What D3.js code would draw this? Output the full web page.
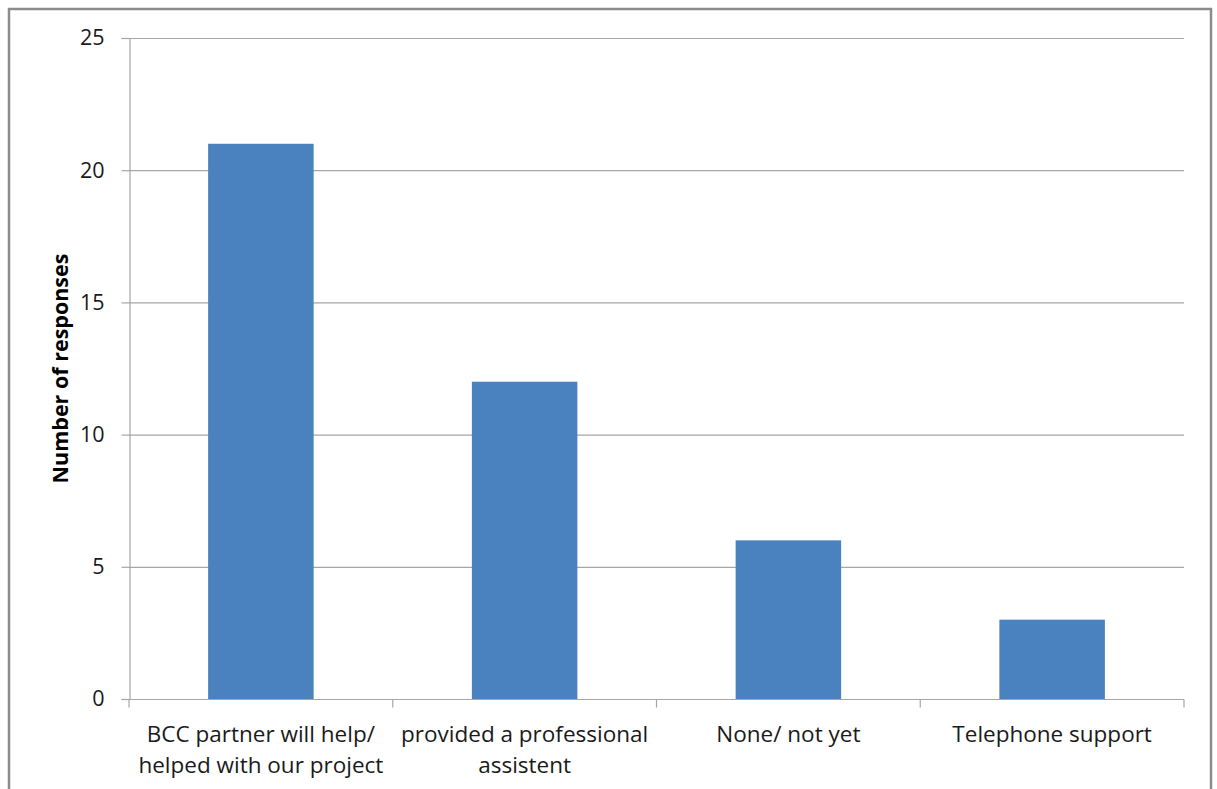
<!DOCTYPE html>
<html><head><meta charset="utf-8">
<script src="https://cdn.jsdelivr.net/npm/d3@7"></script>
<style>body{margin:0;background:#fff}svg{display:block}</style>
</head><body>
<script>
const categories = [["BCC partner will help/","helped with our project"],["provided a professional","assistent"],["None/ not yet"],["Telephone support"]];
const values = [21, 12, 6, 3];
const yTicks = [0, 5, 10, 15, 20, 25];
const yTitle = "Number of responses";

(function() {
const W = 1217, H = 789;
const svg = d3.select("body").append("svg").attr("width", W).attr("height", H);
const font = "'Open Sans', sans-serif";

// outer border
svg.append("rect").attr("x", 9).attr("y", 9).attr("width", 1202).attr("height", 790)
  .attr("fill", "none").attr("stroke", "#8c8c8c").attr("stroke-width", 2.5);

const mLeft = 129, mRight = 1184, mTop = 38, mBottom = 699;
const x = d3.scaleBand().domain(d3.range(values.length)).range([mLeft, mRight]).paddingInner(0.6).paddingOuter(0.3);
const xb = d3.scaleBand().domain(d3.range(values.length)).range([mLeft, mRight]);
const y = d3.scaleLinear().domain([0, 25]).range([mBottom, mTop]);

// gridlines
svg.append("g").selectAll("line").data(yTicks.filter(d => d > 0)).join("line")
  .attr("x1", mLeft).attr("x2", mRight).attr("y1", d => y(d) + 0.5).attr("y2", d => y(d) + 0.5)
  .attr("stroke", "#a6a6a6").attr("stroke-width", 1.2);

// bars
svg.append("g").selectAll("rect").data(values).join("rect")
  .attr("x", (d, i) => x(i)).attr("width", x.bandwidth())
  .attr("y", d => y(d)).attr("height", d => y(0) - y(d))
  .attr("fill", "#4a82bf");

// y axis
const yAxis = d3.axisLeft(y).tickValues(yTicks).tickSize(8).tickPadding(10);
const gy = svg.append("g").attr("transform", `translate(${mLeft + 0.5},0)`).call(yAxis);
gy.selectAll("line,path").attr("stroke", "#a6a6a6").attr("stroke-width", 1.2);
gy.selectAll("text").attr("font-family", font).attr("font-size", 21.5).attr("fill", "#1a1a1a").attr("dx", -7);

// x axis
const gx = svg.append("g").attr("transform", `translate(0,${mBottom + 0.5})`);
gx.append("line").attr("x1", mLeft).attr("x2", mRight).attr("stroke", "#a6a6a6").attr("stroke-width", 1.2);
const bounds = d3.range(values.length + 1).map(i => mLeft + i * xb.step());
gx.selectAll("line.t").data(bounds).join("line").attr("class", "t")
  .attr("x1", d => d).attr("x2", d => d).attr("y1", 0).attr("y2", 8)
  .attr("stroke", "#a6a6a6").attr("stroke-width", 1.2);
gx.selectAll("text").data(categories).join("text")
  .attr("x", (d, i) => xb(i) + xb.bandwidth() / 2)
  .attr("y", 42)
  .attr("text-anchor", "middle").attr("font-family", font).attr("font-size", 22.5).attr("fill", "#1a1a1a")
  .selectAll("tspan").data(d => d).join("tspan")
  .attr("x", function() { return this.parentNode.getAttribute("x"); })
  .attr("dy", (d, i) => i === 0 ? 0 : 31).text(d => d);

// y title
svg.append("text").attr("transform", `translate(68,${(mTop + mBottom) / 2}) rotate(-90)`)
  .attr("text-anchor", "middle").attr("font-family", font).attr("font-size", 21.5)
  .attr("font-weight", "bold").attr("fill", "#000").text(yTitle);
})();
</script>
</body></html>
